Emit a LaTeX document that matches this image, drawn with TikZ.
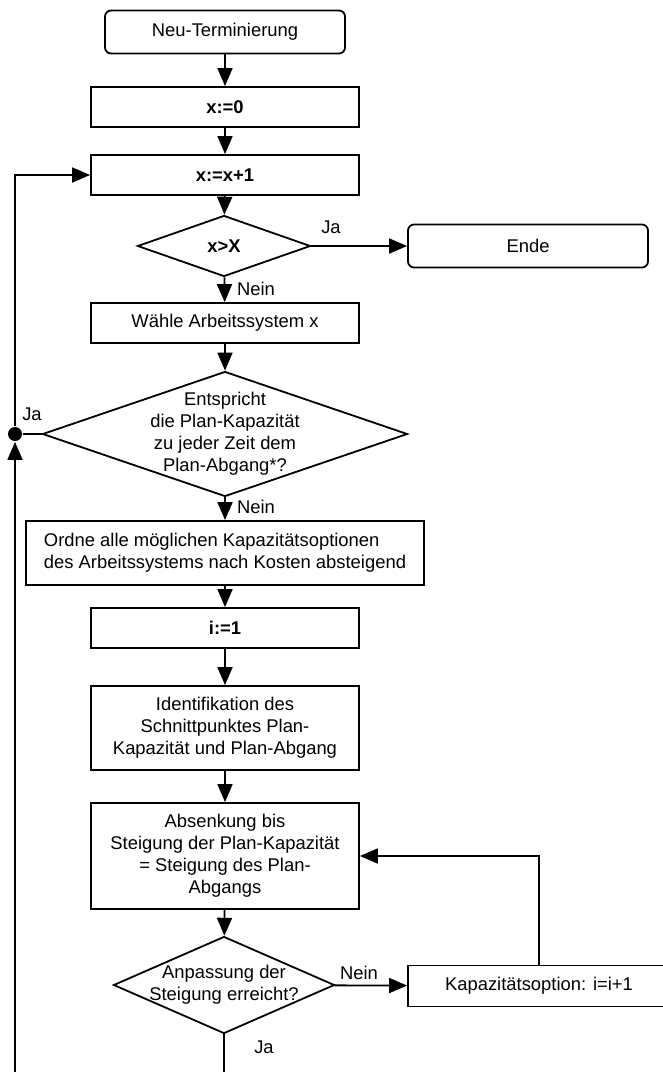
\documentclass[tikz,border=0pt]{standalone}
\usepackage{fontspec}
\setmainfont{Liberation Sans}
\usetikzlibrary{shapes.geometric,arrows.meta}

\begin{document}
\begin{tikzpicture}[
    x=0.5pt, y=-0.5pt,
    every node/.style={font=\fontsize{9.2}{11}\selectfont, align=center, line width=0.9pt},
    proc/.style={rectangle, draw, minimum width=134pt, minimum height=20pt, inner sep=2pt},
    term/.style={proc, rounded corners=3pt, minimum width=120pt, minimum height=21.5pt},
    dec/.style={diamond, draw, inner sep=0pt},
    dot/.style={circle, fill, inner sep=0pt, minimum size=7pt},
    lbl/.style={inner sep=1pt},
    flow/.style={draw, line width=0.9pt, -{Triangle[length=9pt, width=7.5pt]}},
    line/.style={draw, line width=0.9pt}
  ]
  \useasboundingbox (0,0) rectangle (663,1072);

  \node[term] (start) at (225,32) {Neu-Terminierung};
  \node[proc] (init) at (225,107) {\textbf{x:=0}};
  \node[proc] (next) at (225,175) {\textbf{x:=x+1}};
  \node[dec, minimum width=86.5pt, minimum height=30.5pt] (last) at (224,246) {\textbf{x>X}};
  \node[term] (ende) at (528,246) {Ende};
  \node[proc] (pick) at (225,323) {Wähle Arbeitssystem x};
  \node[dec, minimum width=182.5pt, minimum height=62.5pt,
    label={center:Entspricht\\die Plan-Kapazität\\zu jeder Zeit dem\\Plan-Abgang*?}] (check) at (225,434) {};
  \node[proc, minimum width=199pt, minimum height=32pt, align=left] (sort) at (225,553)
    {Ordne alle möglichen Kapazitätsoptionen\\des Arbeitssystems nach Kosten absteigend};
  \node[proc] (ione) at (225,628) {\textbf{i:=1}};
  \node[proc, minimum height=42pt] (ident) at (225,728)
    {Identifikation des\\Schnittpunktes Plan-\\Kapazität und Plan-Abgang};
  \node[proc, minimum height=53pt] (lower) at (225,856)
    {Absenkung bis\\Steigung der Plan-Kapazität\\= Steigung des Plan-\\Abgangs};
  \node[dec, minimum width=110.5pt, minimum height=48.5pt,
    label={center:Anpassung der\\Steigung erreicht?}] (fit) at (224,985) {};
  \node[proc, minimum width=131pt, minimum height=20.5pt] (opt) at (539,986) {Kapazitätsoption: i=i+1};
  \node[dot] (join) at (15,434) {};
  \coordinate (jaend) at (224,1072);
  \coordinate (back) at (15,1072);

  \node[lbl] (ja1) at (331,227) {Ja};
  \node[lbl] (nein1) at (256,289) {Nein};
  \node[lbl] (ja2) at (32,414) {Ja};
  \node[lbl] (nein2) at (256,507) {Nein};
  \node[lbl] (nein3) at (359,973) {Nein};
  \node[lbl] (ja3) at (264,1047) {Ja};

  \draw[flow] (start) -- (init);
  \draw[flow] (init) -- (next);
  \draw[flow] (next) -- (last);
  \draw[flow] (last) -- (ende);
  \draw[flow] (last) -- (pick);
  \draw[flow] (pick) -- (check);
  \draw[flow] (check) -- (sort);
  \draw[line] (check) -- (join);
  \draw[flow] (back) -- (join);
  \draw[flow] (join) |- (next);
  \draw[flow] (sort) -- (ione);
  \draw[flow] (ione) -- (ident);
  \draw[flow] (ident) -- (lower);
  \draw[flow] (lower) -- (fit);
  \draw[flow] (fit) -- (opt);
  \draw[flow] (opt) |- (lower);
  \draw[line] (fit) -- (jaend);
\end{tikzpicture}
\end{document}
